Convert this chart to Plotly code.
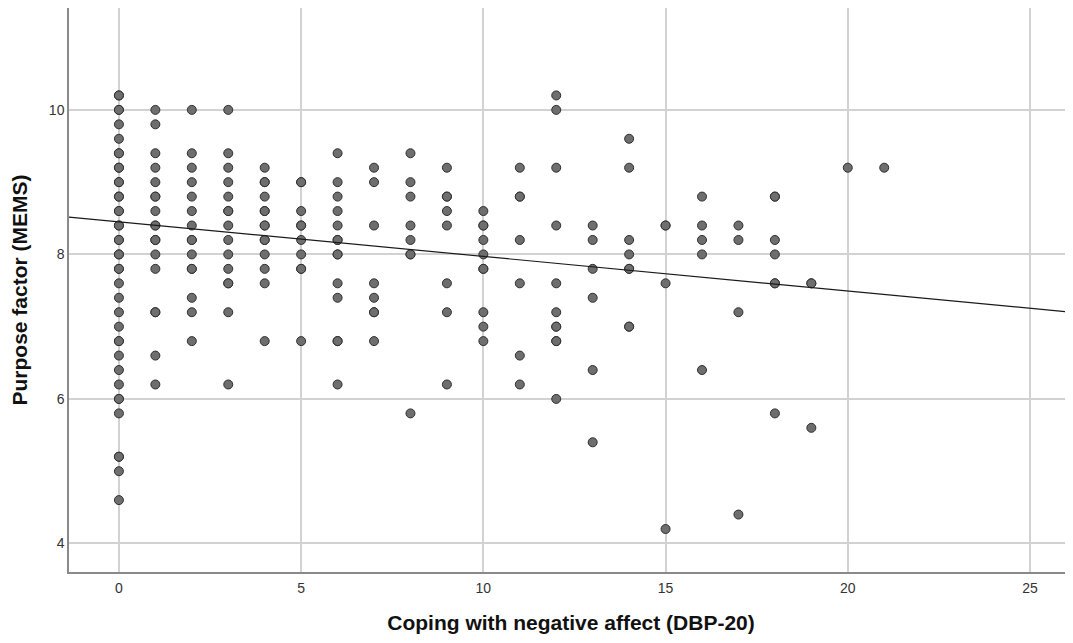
import plotly.graph_objects as go

# Data: x value -> list of y values
x0 = [10.2, 10.2, 10, 10, 9.8, 9.6, 9.4, 9.4, 9.2, 9.2, 9.0, 9.0, 8.8, 8.8, 8.6, 8.6, 8.4, 8.4,
      8.2, 8.2, 8.0, 8.0, 7.8, 7.8, 7.6, 7.4, 7.2, 7.0, 6.8, 6.8, 6.6, 6.4, 6.2, 6.0, 6.0, 5.8,
      5.2, 5.2, 5.0, 4.6]
x1 = [10, 9.8, 9.4, 9.2, 9.0, 8.8, 8.8, 8.6, 8.4, 8.4, 8.2, 8.2, 8.0, 7.8, 7.2, 7.2, 6.6, 6.2]
x2 = [10, 9.4, 9.2, 9.0, 8.8, 8.6, 8.4, 8.2, 8.2, 8.0, 7.8, 7.8, 7.4, 7.2, 6.8]
x3 = [10, 9.4, 9.2, 9.0, 8.8, 8.6, 8.6, 8.4, 8.2, 8.0, 7.8, 7.6, 7.6, 7.2, 6.2]
x4 = [9.2, 9.0, 9.0, 8.8, 8.6, 8.6, 8.4, 8.4, 8.2, 8.2, 8.0, 7.8, 7.6, 6.8]
x5 = [9.0, 9.0, 8.6, 8.4, 8.4, 8.2, 8.0, 7.8, 7.8, 6.8]
x6 = [9.4, 9.0, 8.8, 8.6, 8.4, 8.2, 8.2, 8.0, 8.0, 7.6, 7.4, 6.8, 6.8, 6.2]
x7 = [9.2, 9.0, 8.4, 7.6, 7.4, 7.2, 7.2, 6.8]
x8 = [9.4, 9.0, 8.8, 8.4, 8.2, 8.0, 8.0, 5.8]
x9 = [9.2, 8.8, 8.8, 8.6, 8.4, 7.6, 7.2, 6.2]
x10 = [8.6, 8.4, 8.4, 8.2, 8.0, 7.8, 7.8, 7.2, 7.0, 6.8]
x11 = [9.2, 8.8, 8.8, 8.2, 7.6, 6.6, 6.2]
x12 = [10.2, 10.0, 9.2, 8.4, 7.6, 7.2, 7.0, 7.0, 6.8, 6.8, 6.0]
x13 = [8.4, 8.2, 7.8, 7.4, 6.4, 5.4]
x14 = [9.6, 9.2, 8.2, 8.0, 7.8, 7.8, 7.0, 7.0]
x15 = [8.4, 8.4, 7.6, 4.2]
x16 = [8.8, 8.4, 8.2, 8.0, 6.4]
x17 = [8.4, 8.2, 7.2, 4.4]
x18 = [8.8, 8.8, 8.2, 8.0, 7.6, 7.6, 5.8]
x19 = [7.6, 7.6, 5.6]
x20 = [9.2]
x21 = [9.2]

columns = [x0, x1, x2, x3, x4, x5, x6, x7, x8, x9, x10, x11, x12, x13, x14,
           x15, x16, x17, x18, x19, x20, x21]

# Fit line coefficients
fit_intercept = 8.45
fit_slope = -0.0478

x_ticks = [0, 5, 10, 15, 20, 25]
y_ticks = [4, 6, 8, 10]
x_range = [-1.37, 26.18]
y_range = [3.605, 11.41]

xs, ys = [], []
for xv, col in enumerate(columns):
    for yv in col:
        xs.append(xv)
        ys.append(yv)

fig = go.Figure()
fig.add_trace(go.Scatter(
    x=xs, y=ys, mode="markers",
    marker=dict(size=9, color="#6e6e6e", line=dict(color="#2f2f2f", width=1)),
    hoverinfo="x+y", showlegend=False,
))
fig.add_trace(go.Scatter(
    x=x_range, y=[fit_intercept + fit_slope * v for v in x_range],
    mode="lines", line=dict(color="#1a1a1a", width=1.2),
    hoverinfo="skip", showlegend=False,
))

font_fam = "Liberation Sans, Arial, sans-serif"
axis_common = dict(
    showgrid=True, gridcolor="#d2d2d2", gridwidth=1.5,
    showline=True, linecolor="#8a8a8a", linewidth=1.5,
    zeroline=False, ticks="", fixedrange=True,
    tickfont=dict(family=font_fam, size=14, color="#333333"),
    title_font=dict(family=font_fam, size=21, color="#111111"),
)

# page body has an 8px margin, so the figure is sized to fit the window
fig.update_layout(
    width=1065, height=635,
    margin=dict(l=61, r=0, t=0, b=71),
    paper_bgcolor="white", plot_bgcolor="white",
    xaxis=dict(range=x_range, tickvals=x_ticks, ticklabelstandoff=2,
               title=dict(text="<b>Coping with negative affect (DBP-20)</b>", standoff=21),
               **axis_common),
    yaxis=dict(range=y_range, tickvals=y_ticks, ticklabelstandoff=0,
               title=dict(text="<b>Purpose factor (MEMS)</b>", standoff=16),
               **axis_common),
)

fig.write_html("out.html")
